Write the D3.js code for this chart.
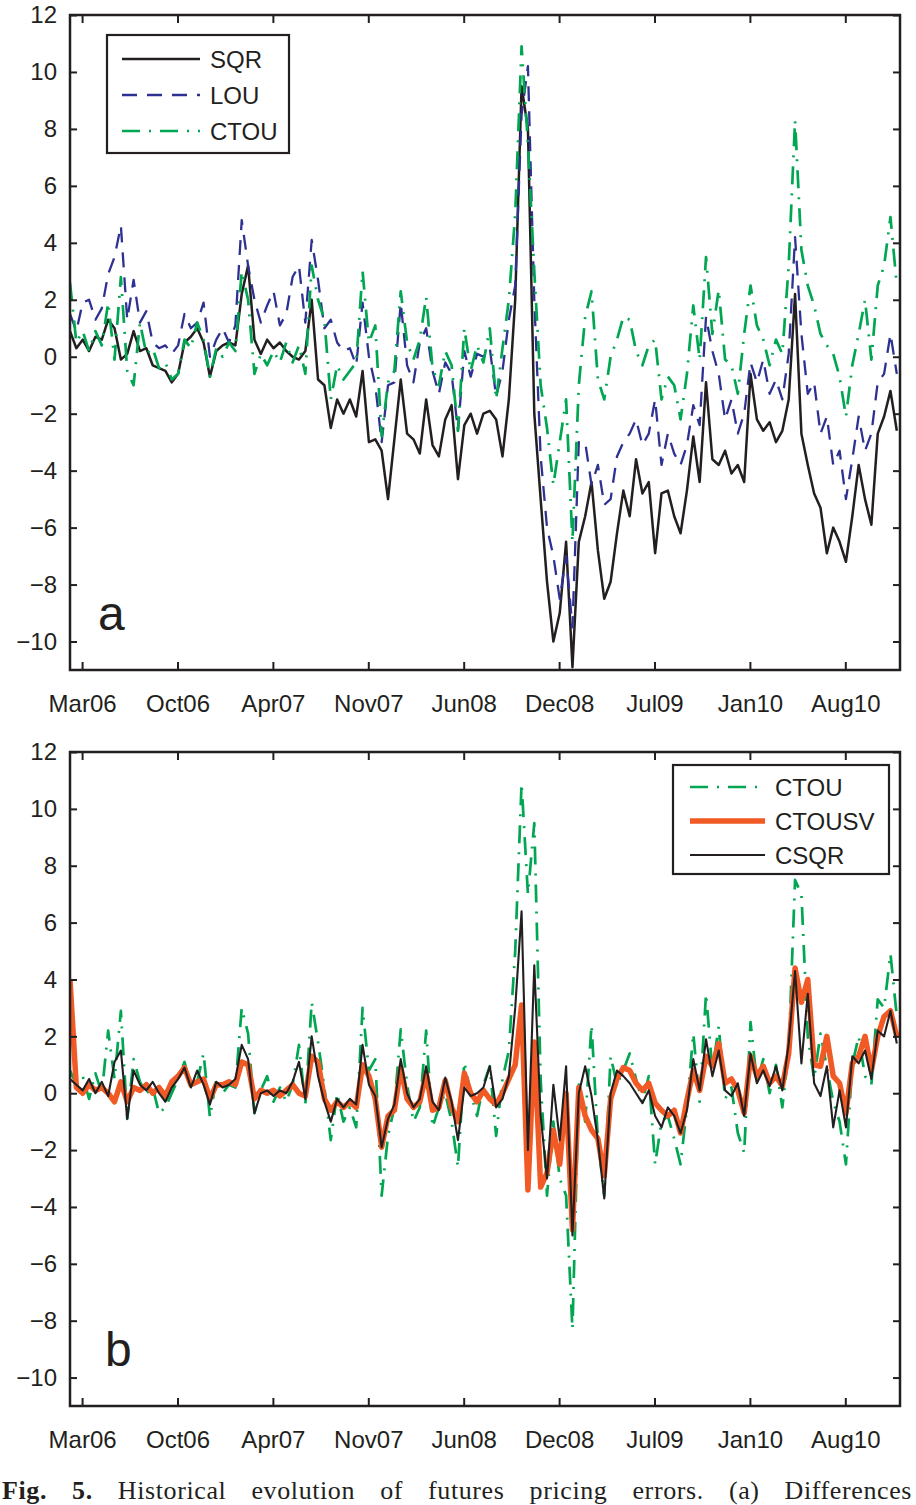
<!DOCTYPE html>
<html>
<head>
<meta charset="utf-8">
<script src="https://cdn.jsdelivr.net/npm/d3@7/dist/d3.min.js"></script>
<style>
  body { margin: 0; background: #fff; }
  svg text { font-family: "Liberation Sans", Arial, Helvetica, sans-serif; fill: #231f20; }
</style>
</head>
<body>
<div id="chart"></div>
<script>
// one value every 10 trading days, day 0 = left edge of the axes
const dayStep = 10;
const dayMax = 1305;
const tickDays = [19, 169, 319, 469, 619, 769, 919, 1069, 1219];
const tickLabels = ["Mar06", "Oct06", "Apr07", "Nov07", "Jun08", "Dec08", "Jul09", "Jan10", "Aug10"];
const yTicks = [-10, -8, -6, -4, -2, 0, 2, 4, 6, 8, 10, 12];

// panel a
const sqr = [0.9, 0.3, 0.6, 0.2, 0.7, 0.6, 1.3, 1.0, -0.1, 0.1,
  0.9, 0.2, 0.3, -0.3, -0.4, -0.5, -0.9, -0.6, 0.5, 0.7,
  1.0, 0.5, -0.7, 0.2, 0.4, 0.5, 0.4, 2.2, 3.2, 0.6,
  0.1, 0.6, 0.3, 0.5, 0.2, 0.0, -0.1, 0.2, 2.0, -0.8,
  -1.0, -2.5, -1.5, -2.0, -1.5, -2.1, -0.5, -3.0, -2.9, -3.3,
  -5.0, -2.9, -0.8, -2.7, -2.9, -3.4, -1.5, -3.1, -3.5, -2.2,
  -1.7, -4.3, -2.4, -2.0, -2.7, -2.0, -1.9, -2.2, -3.5, -1.5,
  2.0, 9.5, 8.0, -2.0, -5.0, -7.9, -10.0, -9.0, -6.5, -10.9,
  -6.5, -5.6, -4.4, -6.8, -8.5, -7.9, -6.2, -4.7, -5.6, -3.6,
  -4.8, -4.4, -6.9, -4.8, -4.7, -5.6, -6.2, -4.7, -2.8, -4.4,
  -0.9, -3.6, -3.8, -3.3, -4.1, -3.8, -4.4, -0.6, -2.2, -2.6,
  -2.3, -3.0, -2.6, -1.5, 2.2, -2.7, -3.8, -4.8, -5.3, -6.9,
  -6.0, -6.5, -7.2, -5.6, -3.8, -5.0, -5.9, -2.7, -2.1, -1.2, -2.6];

const lou = [1.5, 0.9, 1.9, 2.0, 1.3, 1.7, 2.9, 3.5, 4.6, 1.3,
  2.7, 1.2, 1.6, 0.5, 0.3, 0.4, 0.1, 0.4, 1.5, 1.0,
  1.2, 1.9, 0.0, 0.6, 1.0, 0.5, 1.1, 4.8, 3.2, 2.0,
  1.2, 1.8, 2.3, 1.1, 1.5, 2.8, 3.2, 1.2, 4.1, 2.7,
  1.0, 1.3, 0.5, 0.2, 0.3, -0.3, 1.9, 0.0, -1.0, -3.0,
  -1.0, -0.9, 1.9, -0.3, -0.9, 0.5, 1.0, -0.5, -1.3, -0.2,
  -0.6, -2.6, 0.2, -0.7, 0.1, 0.0, 0.3, -1.4, -0.5, 1.3,
  2.5, 8.5, 10.2, 2.0, -3.5, -6.0, -7.0, -8.5, -7.0, -9.5,
  -3.0, -3.0, -4.5, -3.8, -5.2, -5.0, -3.5, -3.0, -2.7, -2.2,
  -3.1, -2.7, -1.5, -3.8, -2.7, -3.4, -3.8, -3.1, -1.7, -2.4,
  1.4, 0.2, -0.6, -2.2, -1.5, -2.7, -2.0, -0.2, -0.9, -0.1,
  -1.3, -0.8, -1.5, 0.1, 4.2, 0.8, -1.3, -0.9, -2.7, -2.1,
  -3.8, -3.3, -5.0, -3.6, -2.1, -3.3, -2.7, -0.9, -0.6, 0.8, -0.6];

const ctouA = [2.6, 0.5, 0.9, 0.2, 0.9, 0.4, 1.9, -0.1, 2.8, -0.5,
  -1.0, 1.2, 0.1, 0.3, -0.4, -0.2, -0.8, -0.6, 0.6, 0.3,
  1.2, 0.6, -0.7, 0.3, 0.0, 0.5, 0.2, 3.0, 2.0, -0.6,
  0.1, -0.3, 0.2, -0.2, 0.5, -0.2, 0.4, -0.6, 3.2, 2.0,
  1.3, -1.5, -0.3, -0.8, -0.5, -0.2, 3.0, 0.5, 1.1, -2.8,
  -0.9, -0.5, 2.3, 0.5, -0.1, 0.6, 2.1, -0.4, -1.0, 0.2,
  -0.3, -2.6, 1.0, -0.5, 0.4, -0.2, 1.0, -1.5, 0.3, 2.0,
  5.0, 10.9, 7.5, 3.0, -1.0, -2.5, -4.5, -3.0, -1.5, -6.5,
  -1.0, 1.4, 2.3, -0.8, -1.5, 0.0, 0.6, 1.4, 1.3, 0.2,
  -0.3, 0.4, 0.6, -1.5, -0.7, -1.0, -2.2, -0.6, 1.8, -0.1,
  3.5, 0.8, 2.35, -0.1, -0.3, -1.3, 0.8, 2.5, 1.1, 0.6,
  -0.3, 0.6, 0.1, 3.2, 8.3, 3.75, 2.5, 1.8, 0.8, 0.4,
  0.1, -0.7, -2.1, -0.3, 0.8, 2.0, -0.1, 2.5, 3.2, 4.9, 2.5];

// panel b
const ctouB = [0.8, 0.3, 0.6, -0.2, 0.7, 0.0, 2.2, 0.5, 2.9, -0.9,
  1.2, 0.4, 0.0, 0.2, -0.7, -0.5, 0.0, 0.5, 1.1, 0.2,
  0.4, 1.4, -0.85, 0.5, 0.0, 0.3, 0.2, 3.0, 2.1, -0.7,
  0.1, 0.6, -0.3, 0.2, -0.3, 0.3, 1.7, -0.4, 3.2, 1.8,
  0.2, -1.65, 0.0, -1.0, -0.5, -1.2, 3.0, 0.8, 1.2, -3.6,
  -1.5, -0.5, 2.25, 0.3, -1.0, -0.5, 2.2, -1.2, -0.5, 0.0,
  -1.0, -2.6, 1.1, 0.0, -0.8, 0.3, 0.95, -1.5, 0.5, 1.5,
  5.0, 10.9, 7.0, 9.5, 0.5, -3.6, -1.0, -3.0, -3.6, -8.3,
  0.3, -1.0, 2.4, -1.65, -3.6, 1.3, 0.3, 0.8, 1.4, 0.5,
  -0.3, 0.6, -2.5, -1.0, -0.8, -1.6, -2.5, -0.5, 2.1, -0.3,
  3.5, 0.8, 2.35, -0.2, 0.2, -1.4, -2.1, 2.5, 0.4, 1.2,
  0.0, 1.0, -0.5, 1.5, 7.5, 7.0, 2.0, 0.5, 2.1, 0.9,
  -0.3, -1.0, -2.5, 1.0, 2.0, 0.6, 0.3, 3.3, 3.0, 4.9, 2.7];

const ctousv = [4.0, 0.2, 0.0, 0.3, 0.1, 0.2, 0.0, -0.3, 0.4, -0.3,
  0.2, 0.1, 0.3, 0.0, 0.2, -0.1, 0.4, 0.6, 0.9, 0.3,
  0.4, 0.5, -0.2, 0.3, 0.3, 0.4, 0.3, 1.1, 1.0, -0.2,
  0.1, 0.0, 0.1, -0.1, 0.1, 0.3, 0.0, -0.1, 1.3, 1.1,
  -0.2, -0.6, -0.3, -0.5, -0.3, -0.5, 1.0, 0.6, -0.2, -1.9,
  -0.8, -0.6, 0.9, -0.2, -0.5, -0.3, 0.7, -0.6, -0.5, 0.45,
  -0.5, -1.0, 0.7, 0.0, -0.3, 0.1, -0.2, -0.4, 0.0, 0.5,
  1.0, 3.1, -3.4, 1.8, -3.3, -2.8, -1.3, -2.5, 0.0, -4.8,
  0.2, -0.8, -1.3, -1.6, -2.9, -0.2, 0.5, 0.9, 0.8, 0.35,
  0.1, 0.35, -0.35, -0.6, -0.8, -0.6, -1.4, -0.25, 0.8, 0.1,
  1.3, 0.95, 1.75, 0.35, 0.5, 0.1, -0.7, 1.3, 0.6, 0.95,
  0.35, 0.6, 0.25, 1.4, 4.4, 3.2, 4.0, 1.0, 0.95, 2.0,
  0.6, 0.35, -0.7, 1.05, 1.3, 2.0, 0.8, 2.0, 2.7, 2.9, 2.0];

const csqr = [0.5, 0.3, 0.1, 0.5, 0.0, 0.4, -0.1, 1.1, 1.5, -0.9,
  0.8, 0.3, 0.1, 0.4, 0.0, -0.3, 0.2, 0.5, 0.9, 0.2,
  0.8, 0.3, -0.4, 0.4, 0.2, 0.3, 0.5, 1.7, 1.2, -0.7,
  0.0, 0.1, -0.1, 0.1, 0.0, 0.4, 1.1, -0.2, 2.0, 0.6,
  -0.3, -1.0, -0.2, -0.5, -0.2, -0.4, 1.7, 0.3, -0.1, -1.9,
  -0.9, -0.4, 1.2, 0.0, -0.5, -0.2, 0.95, -0.3, -0.6, 0.55,
  -0.3, -1.65, 0.2, -0.1, 0.0, 0.2, 0.95, -0.5, -0.2, 0.6,
  3.0, 6.4, -2.0, 4.5, -0.8, -3.0, 0.3, -1.65, 0.95, -5.0,
  0.0, 0.95, -0.1, -1.65, -3.7, 0.0, 0.8, 0.6, 0.35, 0.0,
  -0.35, 0.1, -0.8, -1.2, -0.5, -0.8, -1.4, -0.6, 1.2, 0.1,
  1.9, 0.6, 1.5, 0.1, -0.1, 0.35, -0.8, 1.4, 0.35, 0.8,
  0.25, 0.95, 0.1, 1.75, 4.3, 1.05, 3.5, 0.35, -0.1, 0.95,
  -1.2, 0.1, -1.2, 1.3, 1.05, 1.5, 0.5, 2.2, 2.0, 2.9, 1.75];

const black = "#231f20", navy = "#2e3192", green = "#00a651", orange = "#f15a24";
const styleSQR = { color: black, width: 2.5, dash: null };
const styleLOU = { color: navy, width: 2.3, dash: "15,10" };
const styleCTOU = { color: green, width: 2.7, dash: "18,9,2,9" };
const styleSV = { color: orange, width: 5.5, dash: null };
const styleCSQR = { color: black, width: 2.1, dash: null };

const W = 916, H = 1505;
const left = 70, right = 900;

const svg = d3.select("#chart").append("svg")
  .attr("width", W)
  .attr("height", H);

const x = d3.scaleLinear().domain([0, dayMax]).range([left, right]);

function drawPanel(id, top, bottom, series, leg, letter) {
  const y = d3.scaleLinear().domain([-11, 12]).range([bottom, top]);

  svg.append("defs").append("clipPath").attr("id", "clip" + id)
    .append("rect")
    .attr("x", left).attr("y", top)
    .attr("width", right - left).attr("height", bottom - top);

  const line = d3.line()
    .x((d, i) => x(i * dayStep))
    .y(d => y(d));

  const plot = svg.append("g").attr("clip-path", "url(#clip" + id + ")");
  series.forEach(s => {
    plot.append("path")
      .datum(s.values)
      .attr("d", line)
      .attr("fill", "none")
      .attr("stroke", s.style.color)
      .attr("stroke-width", s.style.width)
      .attr("stroke-linejoin", "round")
      .attr("stroke-dasharray", s.style.dash);
  });

  // axes, ticks pointing inward on all four sides
  const fmt = d => d < 0 ? "\u2212" + Math.abs(d) : d;
  const axes = [
    [d3.axisBottom(x).tickValues(tickDays).tickFormat((d, i) => tickLabels[i]).tickSizeInner(-8).tickPadding(25), "translate(0," + bottom + ")"],
    [d3.axisTop(x).tickValues(tickDays).tickFormat("").tickSizeInner(-8), "translate(0," + top + ")"],
    [d3.axisLeft(y).tickValues(yTicks).tickFormat(fmt).tickSizeInner(-7).tickPadding(13), "translate(" + left + ",0)"],
    [d3.axisRight(y).tickValues(yTicks).tickFormat("").tickSizeInner(-7), "translate(" + right + ",0)"]
  ];
  axes.forEach(([ax, tr]) => {
    const g = svg.append("g").attr("transform", tr).call(ax.tickSizeOuter(0));
    g.select(".domain").remove();
    g.selectAll(".tick line").attr("stroke", black).attr("stroke-width", 2);
    g.selectAll(".tick text").attr("font-size", 24).attr("fill", black)
      .style("font-family", '"Liberation Sans", Arial, sans-serif');
  });

  svg.append("rect")
    .attr("x", left).attr("y", top)
    .attr("width", right - left).attr("height", bottom - top)
    .attr("fill", "none").attr("stroke", black).attr("stroke-width", 2.5);

  svg.append("text")
    .attr("x", letter.x).attr("y", bottom - 40)
    .attr("font-size", 48)
    .text(letter.text);

  // legend
  const lg = svg.append("g");
  lg.append("rect")
    .attr("x", leg.x).attr("y", leg.y)
    .attr("width", leg.w).attr("height", leg.h)
    .attr("fill", "#fff").attr("stroke", black).attr("stroke-width", 2.2);
  leg.items.forEach((s, i) => {
    const yy = leg.y + leg.first + i * leg.gap;
    lg.append("line")
      .attr("x1", leg.x + leg.pad).attr("x2", leg.x + leg.pad + leg.len)
      .attr("y1", yy).attr("y2", yy)
      .attr("stroke", s.style.color)
      .attr("stroke-width", s.style.width)
      .attr("stroke-dasharray", s.style.dash);
    lg.append("text")
      .attr("x", leg.x + leg.pad + leg.len + 10).attr("y", yy)
      .attr("dy", "0.36em")
      .attr("font-size", 24)
      .text(s.name);
  });
}

const seriesA = [
  { name: "SQR", values: sqr, style: styleSQR },
  { name: "LOU", values: lou, style: styleLOU },
  { name: "CTOU", values: ctouA, style: styleCTOU }
];
const seriesB = [
  { name: "CTOU", values: ctouB, style: styleCTOU },
  { name: "CTOUSV", values: ctousv, style: styleSV },
  { name: "CSQR", values: csqr, style: styleCSQR }
];

drawPanel("a", 15, 670, seriesA,
  { x: 107, y: 35, w: 182, h: 118, pad: 15, len: 78, first: 24, gap: 36, items: seriesA },
  { x: 98, text: "a" });
drawPanel("b", 752, 1406, seriesB,
  { x: 673, y: 765, w: 216, h: 109, pad: 17, len: 75, first: 22, gap: 34, items: seriesB },
  { x: 105, text: "b" });

// caption under the figure, justified by widening the word gaps
const capText = "Historical evolution of futures pricing errors. (a) Differences";
const cap = svg.append("text")
  .attr("x", 2).attr("y", 1499)
  .attr("font-size", 26)
  .attr("letter-spacing", 0.6)
  .style("font-family", '"Liberation Serif", "DejaVu Serif", serif');
cap.append("tspan").attr("font-weight", "bold").text("Fig. 5. ");
cap.append("tspan").text(capText);
const natural = cap.node().getComputedTextLength();
const gaps = (("Fig. 5. " + capText).match(/ /g) || []).length;
cap.attr("word-spacing", Math.max(0, (910 - natural) / gaps));
</script>
</body>
</html>
